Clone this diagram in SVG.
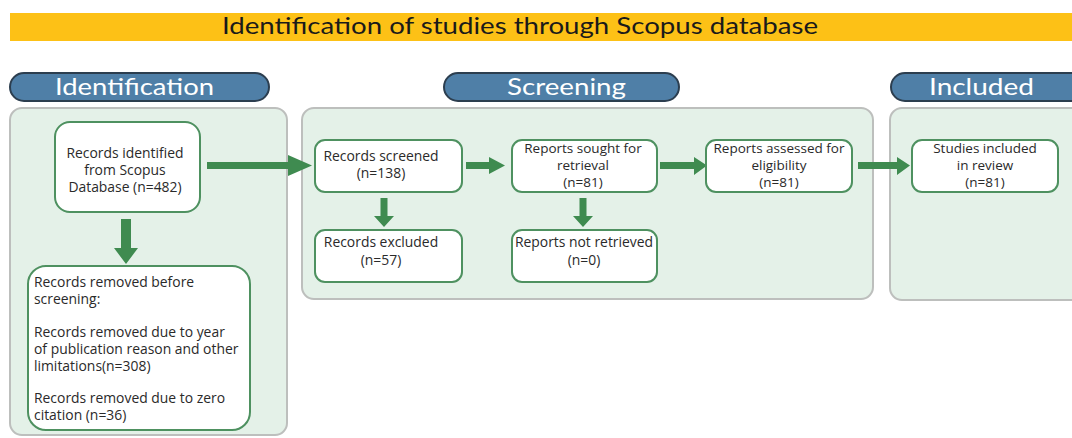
<svg xmlns="http://www.w3.org/2000/svg" width="1072" height="438" viewBox="0 0 1072 438">
<style>
.title{font-family:Lato,"Open Sans","Liberation Sans",sans-serif;font-size:23px;fill:#1a1a1a}
.pill{fill:#4f7fa7;stroke:#2c3e4f;stroke-width:2}
.pilltext{font-family:Lato,"Open Sans","Liberation Sans",sans-serif;font-size:24px;fill:#ffffff;text-anchor:middle}
.panel{fill:#e4f1e8;stroke:#bdbfbd;stroke-width:2}
.box{fill:#ffffff;stroke:#4e9160;stroke-width:2}
.t{font-family:"Open Sans","Liberation Sans",sans-serif;font-size:13.9px;fill:#2a2a2a;text-anchor:middle}
.t3{font-family:"Open Sans","Liberation Sans",sans-serif;font-size:13.5px;fill:#2a2a2a;text-anchor:middle}
.tl{font-family:"Open Sans","Liberation Sans",sans-serif;font-size:13.9px;fill:#2a2a2a}
.arrow{fill:#3f8b50}
</style>
<rect width="1072" height="438" fill="#ffffff"/>
<g id="title">
<rect x="10" y="13" width="1062" height="28" fill="#fdc116"/>
<text class="title" x="520" y="34" text-anchor="middle" textLength="596" lengthAdjust="spacingAndGlyphs">Identification of studies through Scopus database</text>
</g>
<g id="headers">
<rect class="pill" x="10" y="73" width="259" height="28" rx="14"/>
<text class="pilltext" x="134.5" y="95" textLength="159" lengthAdjust="spacingAndGlyphs">Identification</text>
<rect class="pill" x="444" y="73" width="235" height="28" rx="14"/>
<text class="pilltext" x="566.5" y="95" textLength="119" lengthAdjust="spacingAndGlyphs">Screening</text>
<rect class="pill" x="891" y="73" width="195" height="28" rx="14"/>
<text class="pilltext" x="981.5" y="95" textLength="105" lengthAdjust="spacingAndGlyphs">Included</text>
</g>
<g id="panels">
<rect class="panel" x="10" y="108" width="277" height="327" rx="12"/>
<rect class="panel" x="302" y="108" width="571" height="191" rx="12"/>
<rect class="panel" x="890" y="108" width="196" height="192" rx="12"/>
</g>
<g id="connectors">
<path class="arrow" d="M207,162 H288 V155 L312,165.5 L288,176 V169 H207 Z"/>
<path class="arrow" d="M466,162 H489 V157 L505,165.5 L489,174 V169 H466 Z"/>
<path class="arrow" d="M660,162 H694 V157 L707,165.5 L694,175 V169 H660 Z"/>
<path class="arrow" d="M858,162 H897 V157 L910,165.5 L897,175 V169 H858 Z"/>
<path class="arrow" d="M121,219 H131 V248 H138 L126,264 L114,248 H121 Z"/>
<path class="arrow" d="M380.5,198 H387.5 V216 H394 L384,227 L374,216 H380.5 Z"/>
<path class="arrow" d="M579.5,198 H586.5 V216 H593 L583,227 L573,216 H579.5 Z"/>
</g>
<g id="records-identified">
<rect class="box" x="55" y="122" width="145" height="90" rx="15"/>
<text class="t" x="125" y="158">Records identified</text>
<text class="t" x="125" y="175">from Scopus</text>
<text class="t" x="125" y="192">Database (n=482)</text>
</g>
<g id="records-removed">
<rect class="box" x="28" y="266" width="222" height="164" rx="18"/>
<text class="tl" x="34" y="287">Records removed before</text>
<text class="tl" x="34" y="304">screening:</text>
<text class="tl" x="34" y="337">Records removed due to year</text>
<text class="tl" x="34" y="354">of publication reason and other</text>
<text class="tl" x="34" y="371">limitations(n=308)</text>
<text class="tl" x="34" y="403">Records removed due to zero</text>
<text class="tl" x="34" y="420">citation (n=36)</text>
</g>
<g id="records-screened">
<rect class="box" x="315" y="140" width="147" height="52" rx="10"/>
<text class="t" x="381" y="161">Records screened</text>
<text class="t" x="381" y="178">(n=138)</text>
</g>
<g id="records-excluded">
<rect class="box" x="315" y="230" width="147" height="52" rx="10"/>
<text class="t" x="381" y="247">Records excluded</text>
<text class="t" x="381" y="265">(n=57)</text>
</g>
<g id="reports-sought">
<rect class="box" x="512" y="140" width="145" height="52" rx="10"/>
<text class="t3" x="583" y="153">Reports sought for</text>
<text class="t3" x="583" y="170">retrieval</text>
<text class="t3" x="583" y="187">(n=81)</text>
</g>
<g id="reports-not-retrieved">
<rect class="box" x="512" y="230" width="145" height="52" rx="10"/>
<text class="t" x="584" y="247">Reports not retrieved</text>
<text class="t" x="584" y="265">(n=0)</text>
</g>
<g id="reports-assessed">
<rect class="box" x="706" y="140" width="146" height="52" rx="10"/>
<text class="t3" x="779" y="153">Reports assessed for</text>
<text class="t3" x="779" y="170">eligibility</text>
<text class="t3" x="779" y="187">(n=81)</text>
</g>
<g id="studies-included">
<rect class="box" x="912" y="140" width="146" height="52" rx="10"/>
<text class="t3" x="985" y="153">Studies included</text>
<text class="t3" x="985" y="170">in review</text>
<text class="t3" x="985" y="187">(n=81)</text>
</g>
</svg>
